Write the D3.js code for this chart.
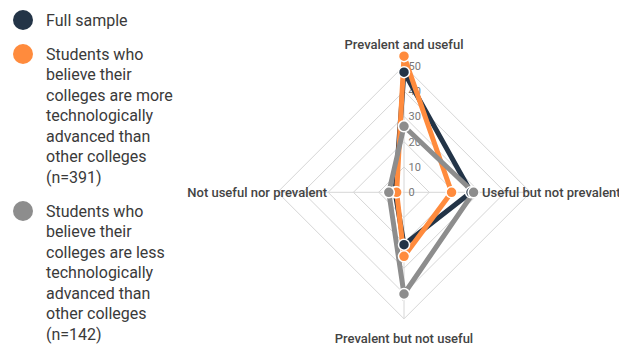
<!DOCTYPE html>
<html>
<head>
<meta charset="utf-8">
<script src="https://cdn.jsdelivr.net/npm/d3@7"></script>
<style>
  html, body { margin: 0; padding: 0; background: #fff; }
  svg { display: block; font-family: Roboto, "Noto Sans", sans-serif; }
</style>
</head>
<body>
<svg id="chart" width="619" height="345"></svg>
<script>
// Axes of the radar, clockwise from the top
const axes = ["Prevalent and useful", "Useful but not prevalent", "Prevalent but not useful", "Not useful nor prevalent"];

// Series values, in the same order as the axes
const fullSample = [47.5, 26.5, 20.7, 3.5];
const moreAdvanced = [53.8, 18.8, 25.3, 2.9];
const lessAdvanced = [26.1, 27.5, 40.2, 6.0];

const seriesNames = [
  "Full sample",
  "Students who believe their colleges are more technologically advanced than other colleges (n=391)",
  "Students who believe their colleges are less technologically advanced than other colleges (n=142)"
];
const seriesColors = ["#233447", "#ff8b3d", "#8d8d8d"];

const tickValues = [0, 10, 20, 30, 40, 50];

const series = [fullSample, moreAdvanced, lessAdvanced].map((values, i) => ({
  name: seriesNames[i], color: seriesColors[i], values
}));

const svg = d3.select("#chart");
const cx = 404, cy = 192.3;
const r = d3.scaleLinear().domain([0, 50]).range([0, 126.5]);
const ang = i => (i / axes.length) * 2 * Math.PI;
const pos = (i, v) => [cx + r(v) * Math.sin(ang(i)), cy - r(v) * Math.cos(ang(i))];

const g = svg.append("g");

// Grid rings (diamonds)
const gridLine = d3.line();
tickValues.filter(t => t > 0).forEach(t => {
  const pts = axes.map((_, i) => pos(i, t));
  g.append("path")
    .attr("d", gridLine(pts) + "Z")
    .attr("fill", "none")
    .attr("stroke", "#d6d6d6")
    .attr("stroke-width", 1);
});

// Spokes
axes.forEach((_, i) => {
  const [x2, y2] = pos(i, 50);
  g.append("line")
    .attr("x1", cx).attr("y1", cy).attr("x2", x2).attr("y2", y2)
    .attr("stroke", "#d6d6d6").attr("stroke-width", 1);
});

// Tick labels along the vertical axis
g.selectAll("text.tick").data(tickValues).join("text")
  .attr("class", "tick")
  .attr("x", cx + 4.5)
  .attr("y", d => cy - r(d))
  .attr("dy", "0.35em")
  .attr("font-size", 11)
  .attr("fill", "#777")
  .text(d => d);

// Axis labels
const labelPos = [
  { x: cx, y: 44, anchor: "middle" },
  { x: 482, y: cy, anchor: "start" },
  { x: cx, y: 338, anchor: "middle" },
  { x: 327, y: cy, anchor: "end" }
];
axes.forEach((a, i) => {
  g.append("text")
    .attr("x", labelPos[i].x)
    .attr("y", labelPos[i].y)
    .attr("dy", "0.35em")
    .attr("text-anchor", labelPos[i].anchor)
    .attr("font-size", 13)
    .attr("font-weight", 500)
    .attr("fill", "#444")
    .text(a);
});

// Series outlines
const radarLine = d3.line().curve(d3.curveLinearClosed);
series.forEach(s => {
  g.append("path")
    .attr("d", radarLine(s.values.map((v, i) => pos(i, v))))
    .attr("fill", "none")
    .attr("stroke", s.color)
    .attr("stroke-width", 5)
    .attr("stroke-linejoin", "miter");
});

// Series points
series.forEach(s => {
  g.selectAll(null).data(s.values).join("circle")
    .attr("cx", (v, i) => pos(i, v)[0])
    .attr("cy", (v, i) => pos(i, v)[1])
    .attr("r", 5.5)
    .attr("fill", s.color)
    .attr("stroke", "#fff")
    .attr("stroke-width", 1.5);
});

// Legend
const legend = svg.append("g");
const wrapWidth = 135;
const lineH = 20.5;
let y = 20;
series.forEach(s => {
  legend.append("circle").attr("cx", 23).attr("cy", y).attr("r", 10).attr("fill", s.color);
  const text = legend.append("text")
    .attr("x", 46).attr("y", y)
    .attr("font-size", 16)
    .attr("fill", "#3a3a3a");
  // simple word wrap
  const words = s.name.split(" ");
  let line = [];
  let lineNo = 0;
  let tspan = text.append("tspan").attr("x", 46).attr("y", y).attr("dy", "0.35em");
  words.forEach(w => {
    line.push(w);
    tspan.text(line.join(" "));
    if (tspan.node().getComputedTextLength() > wrapWidth && line.length > 1) {
      line.pop();
      tspan.text(line.join(" "));
      line = [w];
      lineNo++;
      tspan = text.append("tspan").attr("x", 46).attr("y", y + lineNo * lineH).attr("dy", "0.35em").text(w);
    }
  });
  y += lineNo * lineH + 34;
});
</script>
</body>
</html>
